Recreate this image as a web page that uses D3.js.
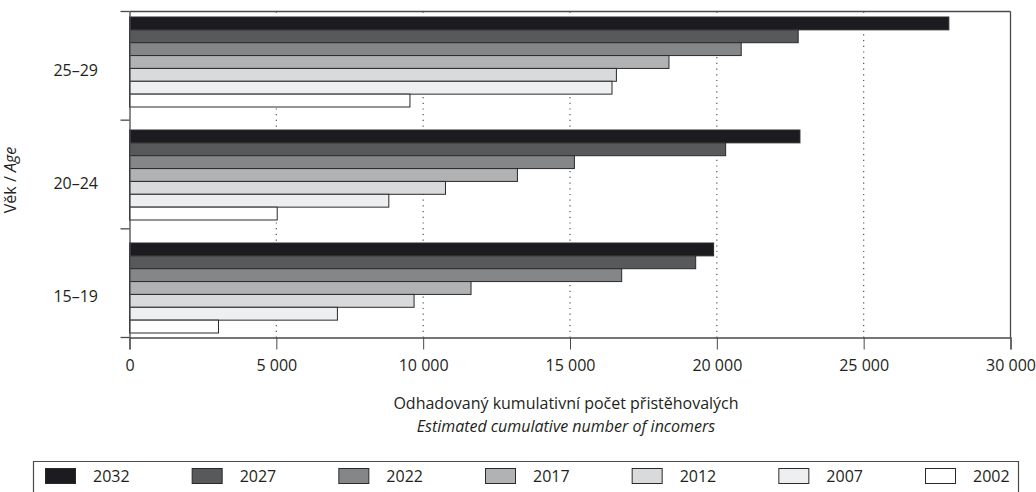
<!DOCTYPE html>
<html>
<head>
<meta charset="utf-8">
<script src="https://cdn.jsdelivr.net/npm/d3@7"></script>
<style>
  html, body { margin: 0; padding: 0; background: #fff; }
  svg { display: block; font-family: "Open Sans", "Noto Sans", sans-serif; }
</style>
</head>
<body>
<svg id="chart" width="1036" height="492"></svg>
<script>
// ---- data ----
const ageGroups = ["25–29", "20–24", "15–19"];
const years = ["2032", "2027", "2022", "2017", "2012", "2007", "2002"];
const values2032 = [27900, 22830, 19890];
const values2027 = [22770, 20300, 19280];
const values2022 = [20830, 15150, 16760];
const values2017 = [18370, 13210, 11630];
const values2012 = [16580, 10760, 9690];
const values2007 = [16430, 8830, 7080];
const values2002 = [9550, 5030, 3030];
const xTicks = [0, 5000, 10000, 15000, 20000, 25000, 30000];
const xTickLabels = ["0", "5 000", "10 000", "15 000", "20 000", "25 000", "30 000"];
const fills = ["#1c1b1f", "#58595b", "#858688", "#b1b2b4", "#d9dadc", "#eeeff0", "#ffffff"];

const seriesValues = [values2032, values2027, values2022, values2017, values2012, values2007, values2002];
const rows = [];
ageGroups.forEach((g, gi) => {
  years.forEach((y, yi) => rows.push({ group: g, year: y, value: seriesValues[yi][gi], fill: fills[yi] }));
});

// ---- layout ----
const L = 129.5, R = 1010.5, T = 11.5, B = 337.5;
const FS = "16px";
const svg = d3.select("#chart");
const textColor = "#231f20";
const frameColor = "#4a4a4a";

const x = d3.scaleLinear().domain([0, 30000]).range([L, R]);
const yAxisBand = d3.scaleBand().domain(ageGroups).range([T, B]).padding(0);
const yGroup = d3.scaleBand().domain(ageGroups).range([17, 333]).paddingInner(23 / 113).paddingOuter(0);
const yBar = d3.scaleBand().domain(years).range([0, yGroup.bandwidth()]).padding(0);

// grid lines
svg.append("g").selectAll("line")
  .data(xTicks.filter(v => v > 0 && v < 30000))
  .join("line")
  .attr("x1", d => x(d)).attr("x2", d => x(d))
  .attr("y1", T).attr("y2", B)
  .attr("stroke", "#555")
  .attr("stroke-width", 1.2)
  .attr("stroke-dasharray", "1.2,4.5");

// bars
svg.append("g").selectAll("rect")
  .data(rows)
  .join("rect")
  .attr("x", x(0))
  .attr("y", d => yGroup(d.group) + yBar(d.year))
  .attr("width", d => x(d.value) - x(0))
  .attr("height", yBar.bandwidth())
  .attr("fill", d => d.fill)
  .attr("stroke", "#2a2a2a")
  .attr("stroke-width", 1);

// frame: top and right
svg.append("line").attr("x1", L).attr("x2", R).attr("y1", T).attr("y2", T)
  .attr("stroke", frameColor).attr("stroke-width", 1.3);
svg.append("line").attr("x1", R).attr("x2", R).attr("y1", T).attr("y2", B)
  .attr("stroke", frameColor).attr("stroke-width", 1.3);

// x axis
const xAxis = d3.axisBottom(x)
  .tickValues(xTicks)
  .tickFormat((d, i) => xTickLabels[i])
  .tickSize(12)
  .tickPadding(10);
const gx = svg.append("g").attr("transform", `translate(0,${B})`).call(xAxis);
gx.attr("font-size", null).attr("font-family", null);
gx.select(".domain").attr("stroke", frameColor).attr("stroke-width", 1.3);
gx.selectAll(".tick line").attr("stroke", frameColor);
gx.selectAll(".tick text").attr("fill", textColor).style("font-size", FS);

// y axis: division ticks at band edges, labels near group centers
const yAxis = d3.axisLeft(yAxisBand).tickSize(0).tickFormat("");
const gy = svg.append("g").attr("transform", `translate(${L},0)`).call(yAxis);
gy.select(".domain").attr("stroke", frameColor).attr("stroke-width", 1.3);
const edges = ageGroups.map(g => yAxisBand(g)).concat([B]);
svg.append("g").selectAll("line").data(edges).join("line")
  .attr("x1", L - 9).attr("x2", L).attr("y1", d => d).attr("y2", d => d)
  .attr("stroke", frameColor).attr("stroke-width", 1.3);
svg.append("g").selectAll("text").data(ageGroups).join("text")
  .attr("x", 98)
  .attr("y", d => yGroup(d) + yGroup.bandwidth() / 2 + 8)
  .attr("dy", "0.35em")
  .attr("text-anchor", "end")
  .attr("fill", textColor)
  .style("font-size", FS)
  .text(d => d);

// y title
const yt = svg.append("text")
  .attr("transform", "translate(16,180) rotate(-90)")
  .attr("text-anchor", "middle")
  .attr("fill", textColor)
  .style("font-size", FS);
yt.append("tspan").text("Věk / ");
yt.append("tspan").style("font-style", "italic").text("Age");

// x titles
svg.append("text").attr("x", 566).attr("y", 409).attr("text-anchor", "middle")
  .attr("fill", textColor).style("font-size", FS)
  .text("Odhadovaný kumulativní počet přistěhovalých");
svg.append("text").attr("x", 566).attr("y", 432).attr("text-anchor", "middle")
  .attr("fill", textColor).style("font-size", FS).style("font-style", "italic")
  .text("Estimated cumulative number of incomers");

// legend
const lg = svg.append("g");
lg.append("path")
  .attr("d", `M33.5,493 V461.5 H1018.5 V493`)
  .attr("fill", "none").attr("stroke", frameColor).attr("stroke-width", 1.2);
const legendX = d3.scalePoint().domain(years).range([45, 925]);
const items = lg.selectAll("g.item").data(years.map((y, i) => ({ y, fill: fills[i] }))).join("g")
  .attr("class", "item")
  .attr("transform", d => `translate(${legendX(d.y)},0)`);
items.append("rect").attr("x", 0.5).attr("y", 468.5).attr("width", 30).attr("height", 15)
  .attr("fill", d => d.fill).attr("stroke", "#2a2a2a").attr("stroke-width", 1);
items.append("text").attr("x", 48).attr("y", 476).attr("dy", "0.35em")
  .attr("fill", textColor).style("font-size", FS).text(d => d.y);
</script>
</body>
</html>
